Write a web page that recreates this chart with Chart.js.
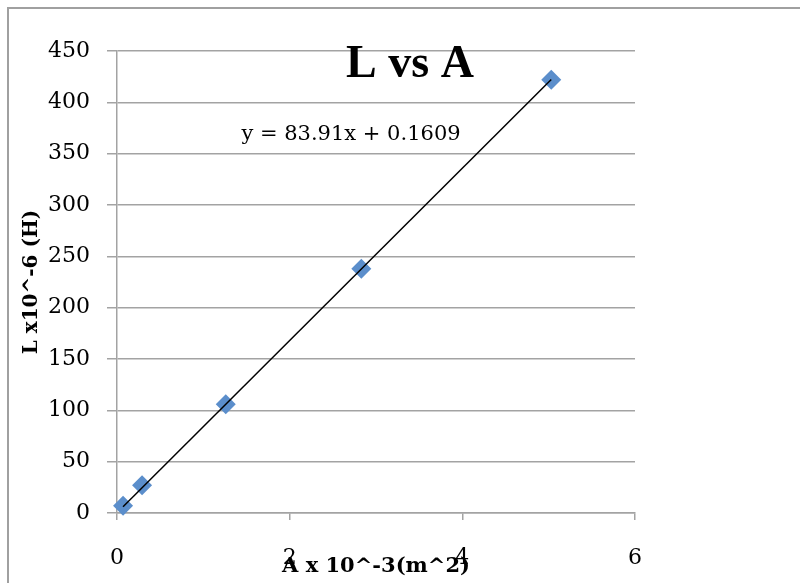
<!DOCTYPE html>
<html>
<head>
<meta charset="utf-8">
<title>L vs A</title>
<script src="https://cdn.jsdelivr.net/npm/chart.js@4.4.1/dist/chart.umd.min.js"></script>
<style>
  html, body { margin: 0; padding: 0; background: #ffffff; }
  #wrap { width: 800px; height: 583px; }
</style>
</head>
<body>
<div id="wrap"><canvas id="lvsAChart" width="800" height="583"></canvas></div>
<script>
// measured values (A in 10^-3 m^2, L in 10^-6 H)
const areaValues = [0.07, 0.29, 1.26, 2.83, 5.03];
const inductanceValues = [7, 27, 106, 238, 422];

// linear trendline shown on the chart
const trendSlope = 83.91;
const trendIntercept = 0.1609;
const trendLabel = 'y = 83.91x + 0.1609';

const xTickValues = [0, 2, 4, 6];
const yTickValues = [0, 50, 100, 150, 200, 250, 300, 350, 400, 450];

const chartTitle = 'L vs A';
const xAxisTitle = 'A x 10^-3(m^2)';
const yAxisTitle = 'L x10^-6 (H)';

const gridGray = '#a3a3a3';
const markerBlue = '#5b8ecb';

const points = areaValues.map((a, i) => ({ x: a, y: inductanceValues[i] }));
const xFirst = Math.min(...areaValues);
const xLast = Math.max(...areaValues);
const trendPoints = [
  { x: xFirst, y: trendSlope * xFirst + trendIntercept },
  { x: xLast, y: trendSlope * xLast + trendIntercept }
];

// outer frame, overlaid title and equation text (Excel style)
const excelDecor = {
  id: 'excelDecor',
  beforeDraw(chart) {
    const ctx = chart.ctx;
    ctx.save();
    ctx.strokeStyle = '#a0a0a0';
    ctx.lineWidth = 2;
    ctx.strokeRect(8, 8, 900, 700);
    ctx.restore();
  },
  afterDraw(chart) {
    const ctx = chart.ctx;
    ctx.save();
    ctx.fillStyle = '#000';
    ctx.textAlign = 'center';
    ctx.textBaseline = 'alphabetic';
    ctx.font = "bold 46px 'Liberation Serif', serif";
    ctx.fillText(chartTitle, 410, 77);
    ctx.font = "21px 'DejaVu Serif', serif";
    ctx.fillText(trendLabel, 351, 140);
    ctx.restore();
  }
};

Chart.defaults.font.family = "'DejaVu Serif', serif";
Chart.defaults.color = '#000';

new Chart(document.getElementById('lvsAChart'), {
  type: 'scatter',
  data: {
    datasets: [
      {
        label: 'Linear (L)',
        data: trendPoints,
        showLine: true,
        borderColor: '#000000',
        borderWidth: 1.5,
        pointRadius: 0,
        clip: false,
        order: 0
      },
      {
        label: 'L',
        data: points,
        pointStyle: 'rectRot',
        pointRadius: 10,
        backgroundColor: markerBlue,
        borderColor: markerBlue,
        borderWidth: 0,
        clip: false,
        order: 1
      }
    ]
  },
  options: {
    responsive: false,
    animation: false,
    layout: {
      padding: { left: 0, right: 165, top: 51, bottom: 0 }
    },
    plugins: {
      legend: { display: false },
      tooltip: { enabled: false }
    },
    scales: {
      x: {
        type: 'linear',
        position: 'bottom',
        min: 0,
        max: 6,
        afterBuildTicks: (scale) => {
          scale.ticks = xTickValues.map(v => ({ value: v }));
        },
        afterFit: (scale) => {
          scale.height = 70;
        },
        ticks: {
          font: { size: 22 },
          color: '#000',
          padding: 25,
          maxRotation: 0
        },
        grid: {
          drawOnChartArea: false,
          tickLength: 7,
          color: gridGray,
          lineWidth: 1.5
        },
        border: { color: gridGray, width: 1.5 },
        title: {
          display: true,
          text: xAxisTitle,
          color: '#000',
          font: { size: 21, weight: 'bold' },
          padding: { top: 0, bottom: 4 }
        }
      },
      y: {
        type: 'linear',
        min: 0,
        max: 450,
        afterBuildTicks: (scale) => {
          scale.ticks = yTickValues.map(v => ({ value: v }));
        },
        afterFit: (scale) => {
          scale.width = 117;
        },
        ticks: {
          font: { size: 22 },
          color: '#000',
          padding: 17
        },
        grid: {
          tickLength: 10,
          color: gridGray,
          lineWidth: 1.5
        },
        border: { color: gridGray, width: 1.5 },
        title: {
          display: true,
          text: yAxisTitle,
          color: '#000',
          font: { size: 20, weight: 'bold' },
          padding: { top: 19.5, bottom: 0 }
        }
      }
    }
  },
  plugins: [excelDecor]
});
</script>
</body>
</html>
